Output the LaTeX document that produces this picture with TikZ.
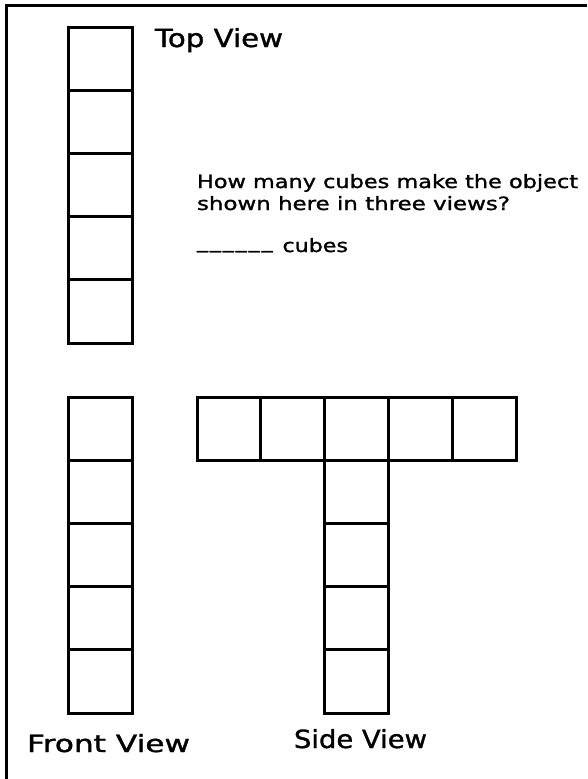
\documentclass[tikz,border=0pt]{standalone}
\usepackage{fontspec}
\usepackage{graphicx}
\setmainfont[FakeBold=1.2]{DejaVu Sans}
\tikzset{
  cell/.style={draw=black, line width=3pt, rectangle, minimum width=63.4pt, minimum height=63.2pt, inner sep=0pt, outer sep=0pt},
  sidecell/.style={cell, minimum width=63.8pt},
  frameline/.style={draw=black, line width=3pt},
  lbl/.style={anchor=base west, inner sep=0pt, outer sep=0pt, text=black}
}
\newcommand{\blankdash}{\_\kern1.5pt}
\begin{document}
\begin{tikzpicture}[x=1pt, y=-1pt]
\useasboundingbox (0,0) rectangle (587,779);
\fill[white] (0,0) rectangle (587,779);
% frame (top and left edges)
\coordinate (ftl) at (6,5);
\coordinate (ftr) at (587,5);
\coordinate (fbl) at (6,779);
\draw[frameline] (ftr) -- (ftl) -- (fbl);
% top view column
\foreach \i/\y in {1/58.6, 2/121.8, 3/185, 4/248.2, 5/311.4}
  \node[cell] (top\i) at (100.5,\y) {};
% front view column
\foreach \i/\y in {1/428.6, 2/491.8, 3/555, 4/618.2, 5/681.4}
  \node[cell] (front\i) at (100.5,\y) {};
% side view row
\foreach \i/\x in {1/228.9, 2/292.7, 3/356.5, 4/420.3, 5/484.1}
  \node[sidecell] (row\i) at (\x,428.6) {};
% side view stem
\foreach \i/\y in {2/491.8, 3/555, 4/618.2, 5/681.4}
  \node[sidecell] (stem\i) at (356.5,\y) {};
% labels
\node[lbl] (toplbl) at (155,47) {\fontsize{25}{28}\selectfont\resizebox{128pt}{\height}{Top View}};
\node[lbl] (frontlbl) at (27,752) {\fontsize{23.8}{28}\selectfont\resizebox{163pt}{\height}{Front View}};
\node[lbl] (sidelbl) at (294,748) {\fontsize{25}{28}\selectfont\resizebox{133pt}{\height}{Side View}};
\node[lbl] (q1) at (197,188) {\fontsize{18.3}{20}\selectfont\resizebox{381pt}{\height}{How many cubes make the object}};
\node[lbl] (q2) at (197,210) {\fontsize{18.3}{20}\selectfont\resizebox{313pt}{\height}{shown here in three views?}};
\node[lbl] (q3) at (197,252) {\fontsize{18.3}{20}\selectfont\resizebox{151pt}{\height}{\raisebox{0.22em}{\blankdash\blankdash\blankdash\blankdash\blankdash\_}\hspace{0.45em}cubes}};
\end{tikzpicture}
\end{document}
